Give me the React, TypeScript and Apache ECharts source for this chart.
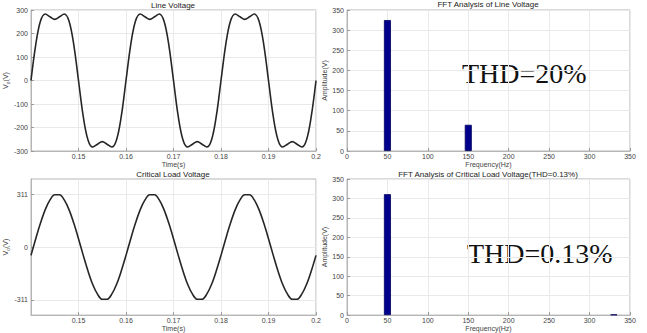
import React, { useEffect, useRef } from "react";
import * as echarts from "echarts";

// time stamps (s)
const times = [
  0.140, 0.141, 0.142, 0.143, 0.144, 0.145, 0.146, 0.147, 0.148, 0.149,
  0.150, 0.151, 0.152, 0.153, 0.154, 0.155, 0.156, 0.157, 0.158, 0.159,
  0.160, 0.161, 0.162, 0.163, 0.164, 0.165, 0.166, 0.167, 0.168, 0.169,
  0.170, 0.171, 0.172, 0.173, 0.174, 0.175, 0.176, 0.177, 0.178, 0.179,
  0.180, 0.181, 0.182, 0.183, 0.184, 0.185, 0.186, 0.187, 0.188, 0.189,
  0.190, 0.191, 0.192, 0.193, 0.194, 0.195, 0.196, 0.197, 0.198, 0.199,
  0.200,
];

// line voltage (V) — flattened top waveform
const lineVoltage = [
  0, 153, 253, 283, 271, 260, 271, 283, 253, 153,
  0, -153, -253, -283, -271, -260, -271, -283, -253, -153,
  0, 153, 253, 283, 271, 260, 271, 283, 253, 153,
  0, -153, -253, -283, -271, -260, -271, -283, -253, -153,
  0, 153, 253, 283, 271, 260, 271, 283, 253, 153,
  0, -153, -253, -283, -271, -260, -271, -283, -253, -153,
  0,
];

// critical load voltage (V)
const loadVoltage = [
  -49, 49, 141, 220, 277, 307, 307, 277, 220, 141,
  49, -49, -141, -220, -277, -307, -307, -277, -220, -141,
  -49, 49, 141, 220, 277, 307, 307, 277, 220, 141,
  49, -49, -141, -220, -277, -307, -307, -277, -220, -141,
  -49, 49, 141, 220, 277, 307, 307, 277, 220, 141,
  49, -49, -141, -220, -277, -307, -307, -277, -220, -141,
  -49,
];

// FFT spectra
const lineFreqs = [50, 150];
const lineAmps = [325, 65];
const loadFreqs = [50, 330];
const loadAmps = [311, 1.5];

const loadTicks = [-311, 0, 311];

const FONT = "Liberation Sans, Arial, sans-serif";
const SERIF = "'Liberation Serif', 'Times New Roman', serif";

export default function App() {
  const ref = useRef<HTMLDivElement>(null);

  useEffect(() => {
    if (!ref.current) return;
    const chart = echarts.init(ref.current, undefined, { renderer: "svg" });

    const grids = [
      { left: 31, top: 10, width: 285, height: 141 },
      { left: 347, top: 10, width: 283, height: 141 },
      { left: 31, top: 179, width: 285, height: 141 },
      { left: 347, top: 179, width: 283, height: 141 },
    ].map((g) => ({
      ...g,
      show: true,
      borderColor: "#b5b5b5",
      borderWidth: 1,
      backgroundColor: "#fff",
    }));

    const labelStyle = { color: "#444", fontSize: 7, fontFamily: FONT };
    const nameStyle = { color: "#444", fontSize: 7, fontFamily: FONT };
    const splitLine = { show: true, lineStyle: { color: "#e9e9e9", width: 1 } };
    const tick = { show: true, inside: true, length: 3, lineStyle: { color: "#999" } };
    const axisLine = { show: true, onZero: false, lineStyle: { color: "#b5b5b5" } };

    const timeAxis = (gridIndex: number) => ({
      type: "value",
      gridIndex,
      min: 0.14,
      max: 0.2,
      interval: 0.01,
      name: "Time(s)",
      nameLocation: "middle",
      nameGap: 8,
      nameTextStyle: nameStyle,
      axisLine,
      axisTick: tick,
      splitLine,
      axisLabel: {
        ...labelStyle,
        margin: 2,
        showMinLabel: false,
        formatter: (v: number) => String(Math.round(v * 100) / 100),
      },
    });

    const freqAxis = (gridIndex: number) => ({
      type: "value",
      gridIndex,
      min: 0,
      max: 350,
      interval: 50,
      name: "Frequency(Hz)",
      nameLocation: "middle",
      nameGap: 8,
      nameTextStyle: nameStyle,
      axisLine,
      axisTick: tick,
      splitLine,
      axisLabel: { ...labelStyle, margin: 2 },
    });

    const voName = "{a|V}{b|o}{a|(V)}";
    const voStyle = {
      ...nameStyle,
      rich: {
        a: { fontSize: 7, fontFamily: FONT, color: "#444", lineHeight: 10, verticalAlign: "middle" },
        b: { fontSize: 5, fontFamily: FONT, color: "#444", lineHeight: 10, verticalAlign: "bottom" },
      },
    };

    const ampAxis = (gridIndex: number) => ({
      type: "value",
      gridIndex,
      min: 0,
      max: 350,
      interval: 50,
      name: "Amplitude(V)",
      nameLocation: "middle",
      nameGap: 16,
      nameTextStyle: nameStyle,
      axisLine,
      axisTick: tick,
      splitLine,
      axisLabel: { ...labelStyle, margin: 3 },
    });

    const lineStyle = { color: "#262626", width: 1.6 };
    const barItem = { color: "#00008c", borderColor: "#000060", borderWidth: 0.8 };

    const option: any = {
      animation: false,
      backgroundColor: "#fff",
      grid: grids,
      xAxis: [timeAxis(0), freqAxis(1), timeAxis(2), freqAxis(3)],
      yAxis: [
        {
          type: "value",
          gridIndex: 0,
          min: -300,
          max: 300,
          interval: 100,
          name: voName,
          nameLocation: "middle",
          nameGap: 13,
          nameTextStyle: voStyle,
          axisLine,
          axisTick: tick,
          splitLine,
          axisLabel: { ...labelStyle, margin: 3 },
        },
        ampAxis(1),
        {
          type: "value",
          gridIndex: 2,
          min: -400,
          max: 400,
          name: voName,
          nameLocation: "middle",
          nameGap: 13,
          nameTextStyle: voStyle,
          axisLine,
          axisTick: { ...tick, customValues: loadTicks },
          splitLine,
          axisLabel: { ...labelStyle, margin: 3, customValues: loadTicks },
        },
        ampAxis(3),
      ],
      series: [
        {
          type: "line",
          xAxisIndex: 0,
          yAxisIndex: 0,
          data: times.map((t, i) => [t, lineVoltage[i]]),
          showSymbol: false,
          smooth: 0.35,
          lineStyle,
        },
        {
          type: "bar",
          xAxisIndex: 1,
          yAxisIndex: 1,
          data: lineFreqs.map((f, i) => [f, lineAmps[i]]),
          barWidth: 7,
          itemStyle: barItem,
        },
        {
          type: "line",
          xAxisIndex: 2,
          yAxisIndex: 2,
          data: times.map((t, i) => [t, loadVoltage[i]]),
          showSymbol: false,
          smooth: 0.35,
          lineStyle,
        },
        {
          type: "bar",
          xAxisIndex: 3,
          yAxisIndex: 3,
          data: loadFreqs.map((f, i) => [f, loadAmps[i]]),
          barWidth: 7,
          itemStyle: barItem,
        },
      ],
      graphic: [
        { type: "text", x: 173, y: 5, style: { text: "Line Voltage", fontSize: 8, fontFamily: FONT, fill: "#222", align: "center", verticalAlign: "middle" } },
        { type: "text", x: 488, y: 4, style: { text: "FFT Analysis of Line Voltage", fontSize: 8, fontFamily: FONT, fill: "#222", align: "center", verticalAlign: "middle" } },
        { type: "text", x: 173, y: 174, style: { text: "Critical Load Voltage", fontSize: 8, fontFamily: FONT, fill: "#222", align: "center", verticalAlign: "middle" } },
        { type: "text", x: 488, y: 174, style: { text: "FFT Analysis of Critical Load Voltage(THD=0.13%)", fontSize: 8, fontFamily: FONT, fill: "#222", align: "center", verticalAlign: "middle" } },
        { type: "text", x: 462, y: 73, style: { text: "THD=20%", fontSize: 28, fontFamily: SERIF, fill: "#111", stroke: "none", lineWidth: 0, align: "left", verticalAlign: "middle" } },
        { type: "text", x: 467, y: 253, style: { text: "THD=0.13%", fontSize: 28, fontFamily: SERIF, fill: "#111", stroke: "none", lineWidth: 0, align: "left", verticalAlign: "middle" } },
      ],
    };

    chart.setOption(option);
    return () => chart.dispose();
  }, []);

  return (
    <div
      ref={ref}
      style={{ position: "fixed", left: 0, top: 0, width: 647, height: 333, background: "#fff" }}
    />
  );
}
